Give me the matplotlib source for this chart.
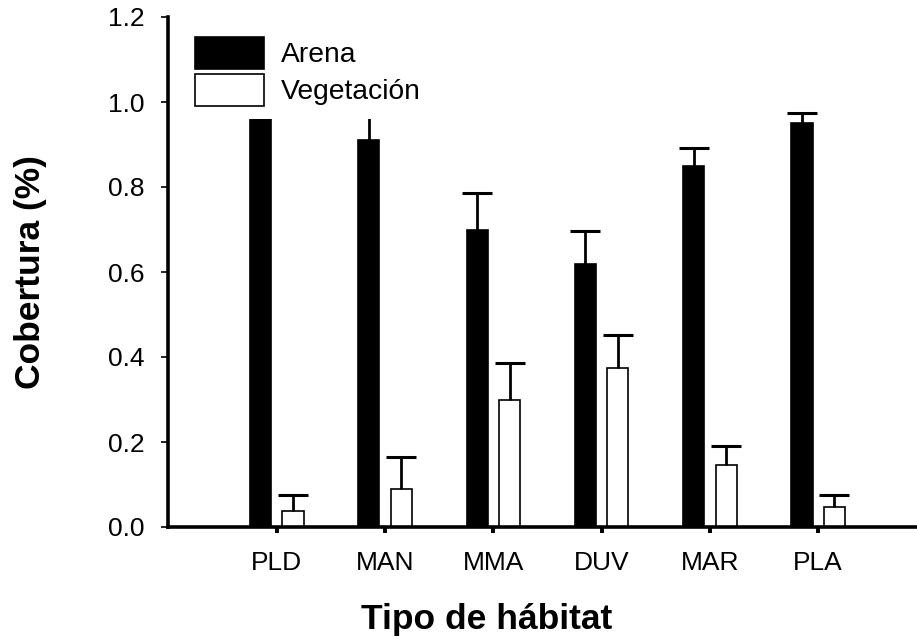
import numpy as np
import matplotlib
matplotlib.use("Agg")
import matplotlib.pyplot as plt

plt.rcParams['font.family'] = ['Liberation Sans', 'DejaVu Sans']

# cobertura media por tipo de habitat (proporcion) y error estandar
habitats = ['PLD', 'MAN', 'MMA', 'DUV', 'MAR', 'PLA']
arena = [0.96, 0.91, 0.70, 0.62, 0.85, 0.95]
arena_err = [0.03, 0.06, 0.085, 0.077, 0.042, 0.024]
vegetacion = [0.038, 0.089, 0.299, 0.375, 0.146, 0.048]
vegetacion_err = [0.037, 0.076, 0.087, 0.076, 0.045, 0.027]

x = np.arange(len(habitats))
w = 0.195
off = 0.15

fig = plt.figure(figsize=(9.17, 6.4), dpi=100)
ax = fig.add_axes([168 / 917, 113 / 640, 1 - 168 / 917, 510 / 640])

b1 = ax.bar(x - off, arena, w, color='black', edgecolor='black', linewidth=1.2, label='Arena')
b2 = ax.bar(x + off, vegetacion, w, color='white', edgecolor='black', linewidth=1.2, label='Vegetación')

# solo la mitad superior del error: se oculta la tapa inferior
for xs, ys, es in [(x - off, arena, arena_err), (x + off, vegetacion, vegetacion_err)]:
    eb = ax.errorbar(xs, ys, yerr=[np.zeros(len(x)), es], fmt='none',
                     ecolor='black', elinewidth=2, capsize=11, capthick=2.2)
    eb[1][0].set_visible(False)

ax.set_xlim(-1.004, 5.912)
ax.set_ylim(0, 1.2)
ax.set_xticks(x)
ax.set_xticklabels(habitats)
ax.set_yticks(np.arange(0, 1.21, 0.2))
ax.set_yticklabels(['%.1f' % v for v in np.arange(0, 1.21, 0.2)])

for s in ['top', 'right']:
    ax.spines[s].set_visible(False)
ax.spines['left'].set_linewidth(2.6)
ax.spines['bottom'].set_linewidth(2.6)
ax.tick_params(axis='y', direction='out', length=5, width=1.2, labelsize=19, pad=12)
ax.tick_params(axis='x', direction='out', length=4, width=2.8, labelsize=19, pad=13)

ax.set_ylabel('Cobertura (%)', fontsize=25.5, fontweight='bold', labelpad=44)
ax.set_xlabel('Tipo de hábitat', fontsize=25.5, fontweight='bold', labelpad=20)
ax.xaxis.set_label_coords(0.426, -0.15)
ax.xaxis.label.set_va('top')

leg = ax.legend(handles=[b1, b2], loc='upper left', bbox_to_anchor=(0.0187, 0.986),
                borderaxespad=0, borderpad=0.45, fontsize=20.3, handlelength=2.45,
                handleheight=1.37, handletextpad=0.6, labelspacing=0.18,
                frameon=True, fancybox=False, framealpha=1)
leg.get_frame().set_facecolor('white')
leg.get_frame().set_edgecolor('none')

fig.savefig('out.png', dpi=100)
